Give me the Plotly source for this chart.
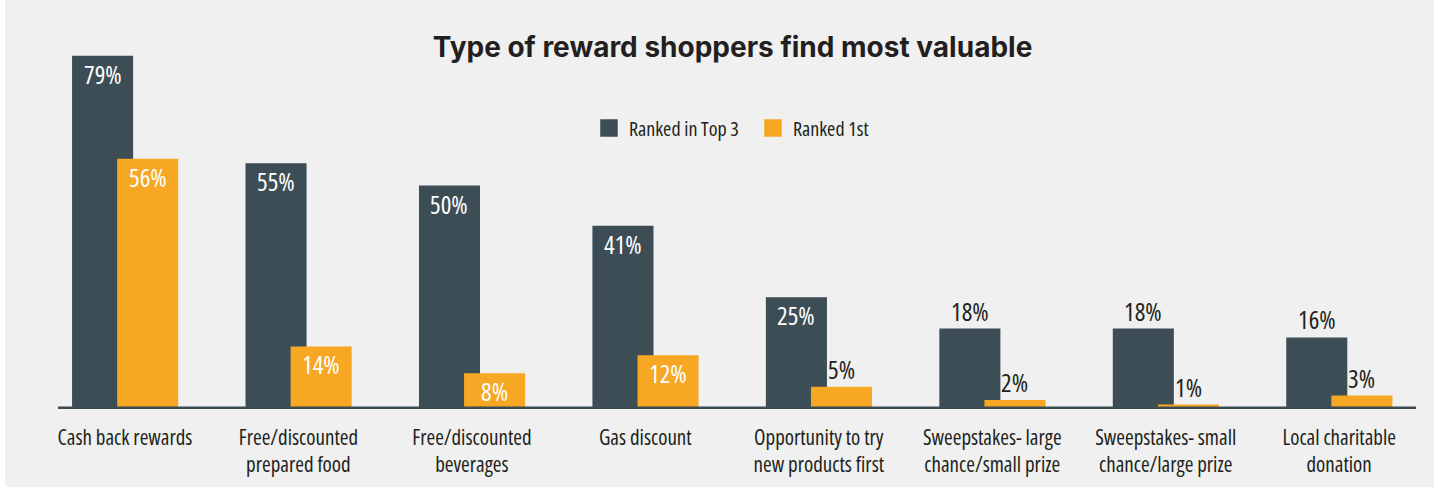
import plotly.graph_objects as go

# ---- data ----
categories = [
    "Cash back rewards",
    "Free/discounted<br>prepared food",
    "Free/discounted<br>beverages",
    "Gas discount",
    "Opportunity to try<br>new products first",
    "Sweepstakes- large<br>chance/small prize",
    "Sweepstakes- small<br>chance/large prize",
    "Local charitable<br>donation",
]
ranked_top3 = [79, 55, 50, 41, 25, 18, 18, 16]
ranked_first = [56, 14, 8, 12, 5, 2, 1, 3]
series_names = ["Ranked in Top 3", "Ranked 1st"]
chart_title = "Type of reward shoppers find most valuable"

# ---- style ----
DARK = "#3d4d56"
ORANGE = "#f6a723"
BG = "#eff0ef"
TEXT = "#231f20"
COND = "Open Sans, Roboto, sans-serif"
TITLE_FONT = "Inter, Lato, Roboto, sans-serif"


def cond(s):
    """Wrap each line in a condensed-width span."""
    return "<br>".join(f"<span style='font-stretch:condensed'>{p}</span>" for p in s.split("<br>"))


W = 0.352
OFF_D = -0.305
OFF_O = -0.045

xs = list(range(len(categories)))

fig = go.Figure()
fig.add_bar(x=xs, y=ranked_top3, width=W, offset=OFF_D, marker=dict(color=DARK, line=dict(width=0)),
            name=series_names[0], showlegend=False, hoverinfo="skip")
fig.add_bar(x=xs, y=ranked_first, width=W, offset=OFF_O, marker=dict(color=ORANGE, line=dict(width=0)),
            name=series_names[1], showlegend=False, hoverinfo="skip")

# legend entries
for name, col in zip(series_names, [DARK, ORANGE]):
    fig.add_scatter(x=[None], y=[None], mode="markers", name=cond(name),
                    marker=dict(symbol="square", size=16, color=col, line=dict(width=1.5, color=col)))

# value labels
for vals, off, thresh in [(ranked_top3, OFF_D, 25), (ranked_first, OFF_O, 8)]:
    for i, v in enumerate(vals):
        inside = v >= thresh
        fig.add_annotation(
            x=i + off + W / 2, y=v, text=cond(f"{v}%"), showarrow=False,
            yanchor="top" if inside else "bottom",
            yshift=1 if inside else -1,
            font=dict(family=COND, size=25, color="white" if inside else TEXT),
        )

# background panel and baseline
fig.add_shape(type="rect", xref="paper", yref="paper", x0=-0.039, x1=1.0133, y0=-0.2114, y1=1.2,
              fillcolor=BG, line=dict(width=0), layer="below")
fig.add_shape(type="line", xref="paper", yref="y", x0=0, x1=1, y0=0, y1=0,
              line=dict(color=DARK, width=5), layer="above")

fig.update_layout(
    width=1440, height=493,
    margin=dict(l=58, r=24, t=40, b=84, autoexpand=False),
    paper_bgcolor="white",
    plot_bgcolor=BG,
    barmode="overlay",
    title=dict(text=f"<b>{chart_title}</b>", x=732.5 / 1440, xref="container", xanchor="center",
               y=1 - 47 / 493, yref="container", yanchor="middle",
               font=dict(family=TITLE_FONT, size=28, color=TEXT)),
    legend=dict(orientation="h", x=0.391, xanchor="left", y=0.7615, yanchor="middle",
                entrywidth=119,
                bgcolor="rgba(0,0,0,0)", font=dict(family=COND, size=20, color=TEXT)),
    xaxis=dict(range=[-0.386, 7.443], tickmode="array", tickvals=xs,
               ticktext=[cond(c) for c in categories], tickangle=0, automargin=False,
               ticklabelstandoff=14,
               showgrid=False, zeroline=False, showline=False, ticks="",
               tickfont=dict(family=COND, size=21, color=TEXT)),
    yaxis=dict(visible=False, range=[0, 82.55], showgrid=False, zeroline=False, automargin=False),
)

fig.write_html("out.html")
